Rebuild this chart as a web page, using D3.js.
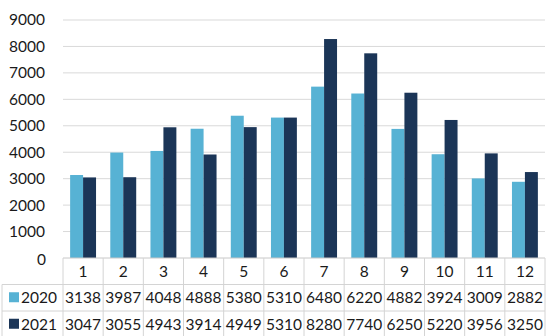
<!DOCTYPE html>
<html><head><meta charset="utf-8">
<script src="https://cdn.jsdelivr.net/npm/d3@7"></script>
<style>
html,body{margin:0;padding:0;background:#fff;}
svg{display:block;font-family:Lato,"Open Sans",sans-serif;}
</style></head>
<body><svg id="c" width="546" height="336"></svg>
<script>
const categories = ["1","2","3","4","5","6","7","8","9","10","11","12"];
const seriesNames = ["2020","2021"];
const values2020 = [3138,3987,4048,4888,5380,5310,6480,6220,4882,3924,3009,2882];
const values2021 = [3047,3055,4943,3914,4949,5310,8280,7740,6250,5220,3956,3250];
const yTicks = [0,1000,2000,3000,4000,5000,6000,7000,8000,9000];
const colors = ["#57b2d4","#1b3557"];

(function(){
const svg = d3.select("#c");
const pLeft = 63, pRight = 545, pTop = 20, pBottom = 258;
const x = d3.scaleBand().domain(categories).range([pLeft, pRight]);
const y = d3.scaleLinear().domain([0, 9000]).range([pBottom, pTop]);
const inner = d3.scaleBand().domain(seriesNames).range([0, x.bandwidth()]).paddingOuter(0.55).paddingInner(0);

svg.append("g").selectAll("line").data(yTicks.filter(d=>d>0)).join("line")
  .attr("x1", pLeft).attr("x2", pRight)
  .attr("y1", d=>y(d)).attr("y2", d=>y(d))
  .attr("stroke", "#d9d9d9").attr("stroke-width", 1);

const yAxis = d3.axisLeft(y).tickValues(yTicks).tickSize(0).tickPadding(0).tickFormat(d3.format("d"));
const ya = svg.append("g").attr("transform", "translate(45,0)").call(yAxis);
ya.select(".domain").remove();
ya.selectAll("text").attr("font-size", 15.5).attr("fill", "#1a1a1a").attr("font-family", "Lato,sans-serif");
ya.selectAll(".tick").filter(d=>d===0).select("text").attr("dy", "0.45em").attr("x", 1);

const series = [values2020, values2021];
series.forEach((vals, si) => {
  svg.append("g").selectAll("rect").data(vals).join("rect")
    .attr("x", (d,i)=>x(categories[i]) + inner(seriesNames[si]))
    .attr("width", inner.bandwidth())
    .attr("y", d=>y(d))
    .attr("height", d=>pBottom - y(d))
    .attr("fill", colors[si]);
});

const rowH = 26.5;
const rows = [pBottom, pBottom+rowH, pBottom+2*rowH, pBottom+3*rowH];
const tg = svg.append("g");
tg.append("line").attr("x1", pLeft).attr("x2", pRight).attr("y1", pBottom).attr("y2", pBottom).attr("stroke", "#c8c8c8");
[rows[1], rows[2]].forEach(yy => tg.append("line").attr("x1", 2).attr("x2", pRight).attr("y1", yy).attr("y2", yy).attr("stroke", "#d4d4d4"));
const xs = categories.map(c=>x(c)).concat([pRight]);
xs.forEach(xx => tg.append("line").attr("x1", xx).attr("x2", xx).attr("y1", pBottom).attr("y2", 336).attr("stroke", "#d4d4d4"));
tg.append("line").attr("x1", 2).attr("x2", 2).attr("y1", rows[1]).attr("y2", 336).attr("stroke", "#d4d4d4");

tg.selectAll("text.cat").data(categories).join("text")
  .attr("x", d=>x(d)+x.bandwidth()/2).attr("y", rows[0]+rowH/2+5.5)
  .attr("text-anchor","middle").attr("font-size",15.5).attr("fill","#1a1a1a").text(d=>d);

series.forEach((vals, si) => {
  const ry = rows[si+1] + rowH/2 + 5.5;
  tg.append("g").selectAll("text").data(vals).join("text")
    .attr("x", (d,i)=>x(categories[i])+x.bandwidth()/2).attr("y", ry)
    .attr("text-anchor","middle").attr("font-size",15.5).attr("fill","#1a1a1a").text(d=>d);
  tg.append("rect").attr("x", 9).attr("y", ry-11).attr("width", 10).attr("height", 10).attr("fill", colors[si]);
  tg.append("text").attr("x", 21).attr("y", ry).attr("font-size",15.5).attr("fill","#1a1a1a").text(seriesNames[si]);
});
})();
</script></body></html>
